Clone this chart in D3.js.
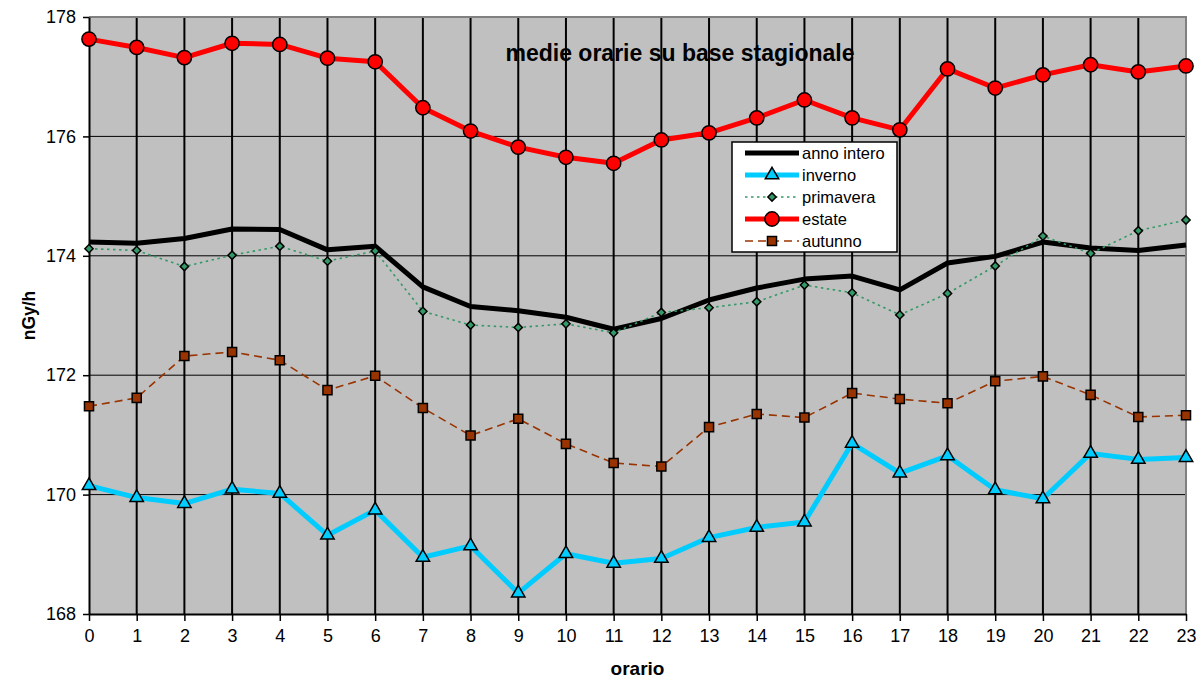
<!DOCTYPE html>
<html>
<head>
<meta charset="utf-8">
<script src="https://cdn.jsdelivr.net/npm/d3@7"></script>
<style>
  body { margin: 0; background: #fff; }
  svg text { font-family: "Liberation Sans", Arial, sans-serif; fill: #000; }
</style>
</head>
<body>
<svg id="chart" width="1203" height="682"></svg>
<script>
'use strict'

/****** DATA ******/

const hours = d3.range(0, 24)
const yTicks = [168, 170, 172, 174, 176, 178]

const annoIntero = [174.23, 174.21, 174.29, 174.45, 174.44, 174.10, 174.16, 173.48, 173.15, 173.08, 172.97, 172.77,
                    172.95, 173.26, 173.46, 173.61, 173.66, 173.43, 173.88, 173.99, 174.23, 174.13, 174.09, 174.18]
const inverno    = [170.15, 169.95, 169.85, 170.09, 170.02, 169.32, 169.74, 168.95, 169.14, 168.35, 169.01, 168.85,
                    168.93, 169.28, 169.45, 169.54, 170.86, 170.36, 170.65, 170.08, 169.93, 170.69, 170.59, 170.62]
const primavera  = [174.12, 174.09, 173.82, 174.01, 174.16, 173.91, 174.08, 173.07, 172.84, 172.80, 172.86, 172.71,
                    173.05, 173.13, 173.23, 173.51, 173.38, 173.01, 173.37, 173.83, 174.33, 174.04, 174.42, 174.60]
const estate     = [177.63, 177.49, 177.32, 177.56, 177.54, 177.31, 177.25, 176.48, 176.09, 175.82, 175.65, 175.55,
                    175.94, 176.06, 176.31, 176.61, 176.31, 176.11, 177.13, 176.81, 177.03, 177.20, 177.08, 177.18]
const autunno    = [171.48, 171.62, 172.32, 172.39, 172.25, 171.75, 171.99, 171.45, 170.99, 171.27, 170.85, 170.53,
                    170.47, 171.13, 171.35, 171.29, 171.70, 171.60, 171.53, 171.90, 171.98, 171.67, 171.30, 171.33]

// series styles, in drawing order
const series = [
  { name: 'anno intero', values: annoIntero, color: '#000000', width: 5,   dash: null,      symbol: null },
  { name: 'inverno',     values: inverno,    color: '#00CCFF', width: 5,   dash: null,      symbol: 'triangle' },
  { name: 'primavera',   values: primavera,  color: '#339966', width: 1.6, dash: '2.5,3.5', symbol: 'diamond' },
  { name: 'estate',      values: estate,     color: '#FF0000', width: 5,   dash: null,      symbol: 'circle' },
  { name: 'autunno',     values: autunno,    color: '#993300', width: 1.6, dash: '8,5',     symbol: 'square' }
]

const markerFill = { triangle: '#00CCFF', diamond: '#339966', circle: '#FF0000', square: '#993300' }


/****** LAYOUT ******/

const margin = { top: 17, right: 17, bottom: 68, left: 89 }
const W = 1203, H = 682
const width = W - margin.left - margin.right,
      height = H - margin.top - margin.bottom

const svg = d3.select('#chart')

const x = d3.scalePoint().domain(hours).range([margin.left, margin.left + width])
const y = d3.scaleLinear().domain([168, 178]).range([margin.top + height, margin.top])

function symbolPath(kind) {
  if (kind === 'triangle') return d3.symbol(d3.symbolTriangle, 78)()
  if (kind === 'diamond')  return d3.symbol(d3.symbolSquare, 34)()
  if (kind === 'circle')   return d3.symbol(d3.symbolCircle, 160)()
  if (kind === 'square')   return d3.symbol(d3.symbolSquare, 82)()
}

// plot background
svg.append('rect')
  .attr('x', margin.left).attr('y', margin.top)
  .attr('width', width).attr('height', height)
  .attr('fill', '#C0C0C0')

// title (gridlines run across it, as in the original)
svg.append('text')
  .attr('x', 680).attr('y', 61)
  .attr('text-anchor', 'middle')
  .style('font-size', '23px').style('font-weight', 'bold')
  .text('medie orarie su base stagionale')

// horizontal gridlines
svg.append('g').selectAll('line')
  .data(yTicks.filter(v => v > 168 && v < 178))
  .join('line')
    .attr('x1', margin.left).attr('x2', margin.left + width)
    .attr('y1', d => y(d)).attr('y2', d => y(d))
    .attr('stroke', '#000').attr('stroke-width', 1)

// vertical gridlines
svg.append('g').selectAll('line')
  .data(hours.slice(1, -1))
  .join('line')
    .attr('x1', d => x(d)).attr('x2', d => x(d))
    .attr('y1', margin.top).attr('y2', margin.top + height)
    .attr('stroke', '#000').attr('stroke-width', 2)

// plot frame, top and right
svg.append('path')
  .attr('d', `M${margin.left},${margin.top}H${margin.left + width}V${margin.top + height}`)
  .attr('fill', 'none').attr('stroke', '#808080').attr('stroke-width', 2)

// axes
const yAxis = svg.append('g')
  .attr('transform', `translate(${margin.left},0)`)
  .call(d3.axisLeft(y).tickValues(yTicks).tickFormat(d3.format('d')).tickSize(6).tickSizeOuter(0).tickPadding(7))
const xAxis = svg.append('g')
  .attr('transform', `translate(0,${margin.top + height})`)
  .call(d3.axisBottom(x).tickSize(7).tickSizeOuter(0).tickPadding(8))

for (const ax of [xAxis, yAxis]) {
  ax.select('.domain').attr('stroke', '#000').attr('stroke-width', 2)
  ax.selectAll('.tick line').attr('stroke', '#000').attr('stroke-width', 1.5)
  ax.selectAll('.tick text')
    .style('font-size', '18px')
    .style('font-family', '"Liberation Sans", Arial, sans-serif')
    .attr('fill', '#000')
}

// axis titles
svg.append('text')
  .attr('x', margin.left + width / 2).attr('y', 675)
  .attr('text-anchor', 'middle')
  .style('font-size', '19px').style('font-weight', 'bold')
  .text('orario')

svg.append('text')
  .attr('transform', `translate(35,${margin.top + height / 2}) rotate(-90)`)
  .attr('text-anchor', 'middle')
  .style('font-size', '17.5px').style('font-weight', 'bold')
  .text('nGy/h')


/****** SERIES ******/

const line = d3.line()
  .x((d, i) => x(hours[i]))
  .y(d => y(d))

const graphic = svg.append('g')

for (const s of series) {
  graphic.append('path')
    .datum(s.values)
    .attr('d', line)
    .attr('fill', 'none')
    .attr('stroke', s.color)
    .attr('stroke-width', s.width)
    .attr('stroke-dasharray', s.dash)
    .attr('stroke-linejoin', 'round')

  if (!s.symbol) continue
  graphic.append('g').selectAll('path')
    .data(s.values)
    .join('path')
      .attr('d', symbolPath(s.symbol))
      .attr('transform', (d, i) => `translate(${x(hours[i])},${y(d)})` + (s.symbol === 'diamond' ? ' rotate(45)' : ''))
      .attr('fill', markerFill[s.symbol])
      .attr('stroke', '#000')
      .attr('stroke-width', 1.5)
}


/****** LEGEND ******/

const legend = svg.append('g').attr('transform', 'translate(732,142)')

legend.append('rect')
  .attr('width', 165).attr('height', 110)
  .attr('fill', '#fff').attr('stroke', '#000').attr('stroke-width', 1.5)

const items = legend.selectAll('g.item')
  .data(series)
  .join('g')
    .attr('class', 'item')
    .attr('transform', (d, i) => `translate(0,${11 + i * 22})`)

items.append('line')
  .attr('x1', 13).attr('x2', 67)
  .attr('stroke', d => d.color)
  .attr('stroke-width', d => d.width)
  .attr('stroke-dasharray', d => d.dash)

items.filter(d => d.symbol).append('path')
  .attr('d', d => symbolPath(d.symbol))
  .attr('transform', d => 'translate(40,0)' + (d.symbol === 'diamond' ? ' rotate(45)' : ''))
  .attr('fill', d => markerFill[d.symbol])
  .attr('stroke', '#000')
  .attr('stroke-width', 1.5)

items.append('text')
  .attr('x', 70).attr('dy', '0.35em')
  .style('font-size', '16.5px')
  .text(d => d.name)
</script>
</body>
</html>
